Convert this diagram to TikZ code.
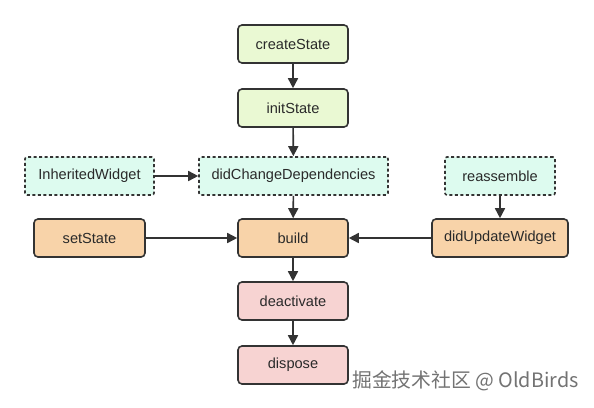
\documentclass[tikz,border=0pt]{standalone}
\usepackage{fontspec}
\setmainfont{Liberation Sans}
\newfontfamily\cjk{Noto Sans CJK SC}
\usetikzlibrary{arrows.meta}
\definecolor{greenfill}{HTML}{EAF9D3}
\definecolor{mintfill}{HTML}{DDFBEF}
\definecolor{orangefill}{HTML}{F8D3A9}
\definecolor{pinkfill}{HTML}{F7D3D2}
\definecolor{edgecol}{HTML}{333333}
\definecolor{txtcol}{HTML}{2A2A2A}
\begin{document}
\begin{tikzpicture}[x=1pt,y=-1pt,
  box/.style={draw=edgecol,line width=1.6pt,rounded corners=4pt,minimum height=38pt,
    inner sep=0pt,font=\fontsize{14.6}{16}\selectfont,text=txtcol},
  greenbox/.style={box,fill=greenfill,minimum width=110pt},
  mintbox/.style={box,fill=mintfill,rounded corners=2pt,dash pattern=on 3pt off 2.5pt},
  orangebox/.style={box,fill=orangefill},
  pinkbox/.style={box,fill=pinkfill,minimum width=110pt},
  arr/.style={draw=edgecol,line width=1.6pt,-{Triangle[length=10pt,width=10pt]}}]
\useasboundingbox[fill=white] (0,0) rectangle (594,407);
\node[greenbox] (create) at (293,44) {createState};
\node[greenbox] (init) at (293,108) {initState};
\node[mintbox,minimum width=189pt] (dcd) at (293.5,176) {didChangeDependencies};
\node[mintbox,minimum width=129pt] (inh) at (89.5,176) {InheritedWidget};
\node[mintbox,minimum width=110pt] (reas) at (500,176) {reassemble};
\node[orangebox,minimum width=111pt] (set) at (89.5,238) {setState};
\node[orangebox,minimum width=110pt] (build) at (293,238) {build};
\node[orangebox,minimum width=136pt] (duw) at (500,238) {didUpdateWidget};
\node[pinkbox] (deact) at (293,301) {deactivate};
\node[pinkbox] (disp) at (293,365) {dispose};
\draw[arr] (create) -- (init);
\draw[arr] (init) -- (dcd);
\draw[arr] (inh) -- (dcd);
\draw[arr] (dcd) -- (build);
\draw[arr] (set) -- (build);
\draw[arr] (duw) -- (build);
\draw[arr] (reas) -- (duw);
\draw[arr] (build) -- (deact);
\draw[arr] (deact) -- (disp);
\node[font=\cjk\fontsize{19.8}{22}\selectfont,text=black!55,anchor=west,inner sep=0pt] (wm) at (352,381) {掘金技术社区 @ OldBirds};
\end{tikzpicture}
\end{document}
